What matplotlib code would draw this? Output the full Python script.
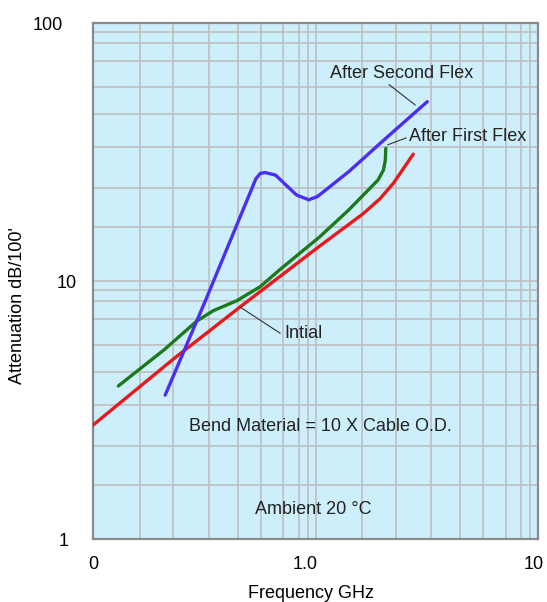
import matplotlib
matplotlib.use("Agg")
import matplotlib.pyplot as plt
import matplotlib.transforms as mtransforms

# Data (frequency GHz, attenuation dB/100')
initial_freq = [0.1, 0.232, 0.458, 1.01, 1.64, 1.95, 2.24, 2.75]
initial_att = [2.77, 5.03, 7.95, 13.4, 18.3, 20.9, 24.0, 31.1]

first_freq = [0.130, 0.21, 0.292, 0.348, 0.443, 0.564, 0.692, 1.047, 1.41, 1.91, 2.02, 2.06, 2.07]
first_att = [3.93, 5.45, 7.0, 7.7, 8.41, 9.53, 11.1, 14.9, 18.9, 24.7, 27.0, 29.5, 32.8]

second_freq = [0.211, 0.321, 0.540, 0.565, 0.594, 0.661, 0.822, 0.932, 1.02, 1.41, 2.03, 3.18]
second_att = [3.62, 8.46, 25.0, 26.2, 26.4, 25.8, 21.6, 20.7, 21.3, 26.6, 35.3, 49.7]

x_tick_values = [0.1, 1.0, 10]
x_tick_labels = ["0", "1.0", "10"]
y_tick_values = [1, 10, 100]
y_tick_labels = ["1", "10", "100"]

plt.rcParams['font.family'] = ['Liberation Sans', 'DejaVu Sans']

fig = plt.figure(figsize=(5.47, 6.02), dpi=100)
ax = fig.add_axes([93 / 547, 1 - 539.3 / 602, (538 - 93) / 547, (539.3 - 23.3) / 602])
ax.set_facecolor("#cdeffb")

ax.set_xscale("log")
ax.set_yscale("log")
ax.set_xlim(0.1, 10)
ax.set_ylim(1, 100)

# grid spacing as drawn on the original chart (fraction of each decade)
fracs = [0.21, 0.36, 0.52, 0.65, 0.755, 0.855, 0.925, 0.965]
x_minor = [10 ** (d + f) for d in (-1, 0) for f in fracs]
y_minor = [10 ** (d + f) for d in (0, 1) for f in fracs]
ax.set_xticks(x_tick_values)
ax.set_xticklabels(x_tick_labels)
ax.set_yticks(y_tick_values)
ax.set_yticklabels(y_tick_labels)
ax.set_xticks(x_minor, minor=True)
ax.set_yticks(y_minor, minor=True)
ax.tick_params(which="both", length=0)
ax.tick_params(axis="x", which="minor", labelbottom=False)
ax.tick_params(axis="y", which="minor", labelleft=False)
ax.tick_params(axis="x", which="major", pad=12, labelsize=13)
ax.tick_params(axis="y", which="major", pad=11.5, labelsize=13)
ax.grid(True, which="both", color="#bcbcbc", linewidth=1.1)
ax.set_axisbelow(True)
for s in ax.spines.values():
    s.set_color("#8a8a8a")
    s.set_linewidth(1.6)

# nudge tick labels to where the original puts them
for lab, dx in zip(ax.get_yticklabels(), [-8, 0, -14]):
    lab.set_transform(lab.get_transform() + mtransforms.ScaledTranslation(dx / 100, 0, fig.dpi_scale_trans))
for lab, dx in zip(ax.get_xticklabels(), [0, -10, -4]):
    lab.set_transform(lab.get_transform() + mtransforms.ScaledTranslation(dx / 100, 0, fig.dpi_scale_trans))

ax.plot(initial_freq, initial_att, color="#e8191c", lw=2.4, solid_capstyle="round", zorder=3)
ax.plot(first_freq, first_att, color="#1c7a1c", lw=2.4, solid_capstyle="round", zorder=3)
ax.plot(second_freq, second_att, color="#4a2ff2", lw=2.4, solid_capstyle="round", zorder=4)

# labels with leader lines
ax.annotate("After Second Flex", xy=(2.81, 48.2), xytext=(1.156, 64.0),
            fontsize=13, color="#222222", va="center", ha="left",
            arrowprops=dict(arrowstyle="-", color="#333333", lw=0.8,
                            shrinkA=0, shrinkB=0, relpos=(0.39, 0.0)))
ax.annotate("After First Flex", xy=(2.11, 33.8), xytext=(2.63, 36.3),
            fontsize=13, color="#222222", va="center", ha="left",
            arrowprops=dict(arrowstyle="-", color="#333333", lw=0.8,
                            shrinkA=0, shrinkB=0, relpos=(-0.02, 0.45)))
ax.annotate("Intial", xy=(0.458, 7.95), xytext=(0.722, 6.29),
            fontsize=13, color="#222222", va="center", ha="left",
            arrowprops=dict(arrowstyle="-", color="#333333", lw=0.8,
                            shrinkA=0, shrinkB=0, relpos=(-0.1, 0.5)))

ax.text(1.05, 2.73, "Bend Material = 10 X Cable O.D.", fontsize=13, color="#222222",
        ha="center", va="center")
ax.text(0.98, 1.30, "Ambient 20 \u00b0C", fontsize=13, color="#222222",
        ha="center", va="center")

fig.text(311.5 / 547, 1 - 593 / 602, "Frequency GHz", fontsize=13, ha="center", va="center")
fig.text(18 / 547, 1 - 305.5 / 602, "Attenuation dB/100'", fontsize=13, ha="center",
         va="center", rotation=90)

fig.savefig("out.png", dpi=100)
